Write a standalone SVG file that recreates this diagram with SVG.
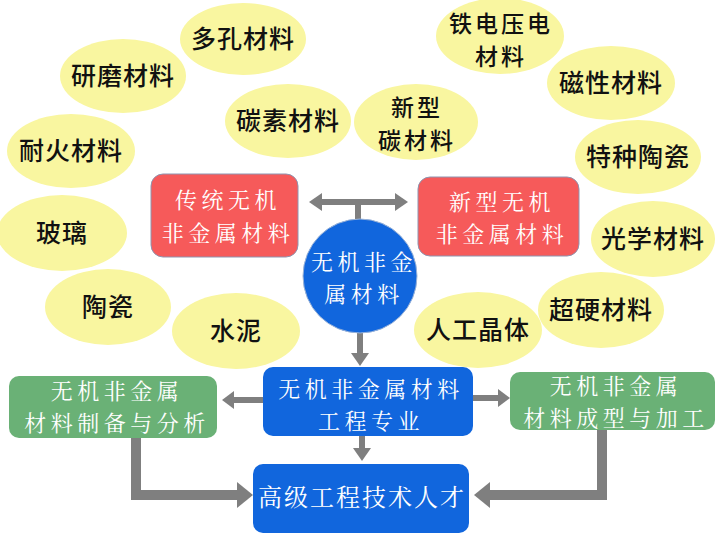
<svg xmlns="http://www.w3.org/2000/svg" width="724" height="535" viewBox="0 0 724 535">
<defs>
<style>
.ell{fill:#F9F6A0;}
.yt{font-family:"Noto Sans CJK SC","Noto Sans",sans-serif;font-size:25px;font-weight:500;fill:#111;text-anchor:middle;letter-spacing:1px;}
.y2{font-size:23px;letter-spacing:3px;}
.wt{font-family:"Noto Serif CJK SC","Noto Sans CJK SC",serif;font-size:22px;fill:#fff;text-anchor:middle;letter-spacing:4.5px;}
.w1{font-size:24px;letter-spacing:2px;}
.red{fill:#F65A5A;stroke:#8E95B0;stroke-width:1;}
.blue{fill:#1166DD;}
.green{fill:#6AB176;}
.ar{stroke:#7F7F7F;fill:none;}
.ah{fill:#7F7F7F;}
</style>
</defs>
<rect width="724" height="535" fill="#fff"/>

<g id="n-duokong"><ellipse class="ell" cx="243" cy="39" rx="63" ry="36"/><text class="yt" x="243" y="48">多孔材料</text></g>
<g id="n-yanmo"><ellipse class="ell" cx="123" cy="76" rx="63" ry="37"/><text class="yt" x="123" y="85">研磨材料</text></g>
<g id="n-tiedian"><ellipse class="ell" cx="500" cy="36" rx="64" ry="38"/><text class="yt y2" x="501" y="32">铁电压电</text><text class="yt y2" x="501" y="65">材料</text></g>
<g id="n-cixing"><ellipse class="ell" cx="611" cy="83" rx="64" ry="37"/><text class="yt" x="611" y="92">磁性材料</text></g>
<g id="n-tansu"><ellipse class="ell" cx="288" cy="121" rx="63" ry="37"/><text class="yt" x="288" y="130">碳素材料</text></g>
<g id="n-xinxingtan"><ellipse class="ell" cx="416" cy="122" rx="62" ry="38"/><text class="yt y2" x="417" y="116">新型</text><text class="yt y2" x="417" y="149">碳材料</text></g>
<g id="n-naihuo"><ellipse class="ell" cx="71" cy="151" rx="64" ry="37"/><text class="yt" x="71" y="160">耐火材料</text></g>
<g id="n-tezhong"><ellipse class="ell" cx="638" cy="157" rx="63" ry="37"/><text class="yt" x="638" y="166">特种陶瓷</text></g>
<g id="n-boli"><ellipse class="ell" cx="62" cy="233" rx="65" ry="38"/><text class="yt" x="62" y="242">玻璃</text></g>
<g id="n-guangxue"><ellipse class="ell" cx="653" cy="239" rx="62" ry="38"/><text class="yt" x="653" y="248">光学材料</text></g>
<g id="n-taoci"><ellipse class="ell" cx="108" cy="307" rx="63" ry="38"/><text class="yt" x="108" y="316">陶瓷</text></g>
<g id="n-shuini"><ellipse class="ell" cx="236" cy="331" rx="64" ry="38"/><text class="yt" x="236" y="340">水泥</text></g>
<g id="n-chaoying"><ellipse class="ell" cx="601" cy="310" rx="63" ry="38"/><text class="yt" x="601" y="319">超硬材料</text></g>
<g id="n-rengong"><ellipse class="ell" cx="478" cy="330" rx="64" ry="38"/><text class="yt" x="478" y="339">人工晶体</text></g>

<g id="connectors">
<path class="ar" stroke-width="6" d="M358 222 V202"/>
<path class="ar" stroke-width="6" d="M320 202 H397"/>
<polygon class="ah" points="309,202 322,193 322,211"/>
<polygon class="ah" points="408,202 395,193 395,211"/>
<path class="ar" stroke-width="6" d="M360 333 V355"/>
<polygon class="ah" points="360,366 351,353 369,353"/>
<path class="ar" stroke-width="6" d="M263 400 H232"/>
<polygon class="ah" points="222,400 234,391 234,409"/>
<path class="ar" stroke-width="6" d="M473 398 H499"/>
<polygon class="ah" points="510,398 498,389 498,407"/>
<path class="ar" stroke-width="6" d="M362 436 V450"/>
<polygon class="ah" points="362,461 353,448 371,448"/>
<path class="ar" stroke-width="10" d="M136 438 V495 H240"/>
<polygon class="ah" points="253,495 237,482 237,508"/>
<path class="ar" stroke-width="10" d="M602 430 V495 H488"/>
<polygon class="ah" points="474,495 490,482 490,508"/>
</g>

<g id="n-chuantong"><rect class="red" x="151" y="174" width="147" height="83" rx="12"/><text class="wt" x="228" y="208">传统无机</text><text class="wt" x="228" y="241">非金属材料</text></g>
<g id="n-xinxing"><rect class="red" x="418" y="177" width="161" height="79" rx="12"/><text class="wt" x="502" y="210">新型无机</text><text class="wt" x="502" y="242">非金属材料</text></g>
<g id="n-center"><circle cx="360" cy="276" r="57" fill="#1166DD" stroke="#9AB3D8" stroke-width="1"/><text class="wt" x="364" y="270">无机非金</text><text class="wt" x="364" y="302">属材料</text></g>
<g id="n-major"><rect class="blue" x="263" y="367" width="210" height="69" rx="10"/><text class="wt" x="371" y="397">无机非金属材料</text><text class="wt" x="371" y="429">工程专业</text></g>
<g id="n-zhibei"><rect class="green" x="9" y="376" width="208" height="62" rx="10"/><text class="wt" x="117" y="399">无机非金属</text><text class="wt" x="117" y="431">材料制备与分析</text></g>
<g id="n-chengxing"><rect class="green" x="510" y="372" width="205" height="58" rx="10"/><text class="wt" x="616" y="394">无机非金属</text><text class="wt" x="616" y="426">材料成型与加工</text></g>
<g id="n-talent"><rect class="blue" x="253" y="464" width="216" height="69" rx="10"/><text class="wt w1" x="362" y="506">高级工程技术人才</text></g>
</svg>
